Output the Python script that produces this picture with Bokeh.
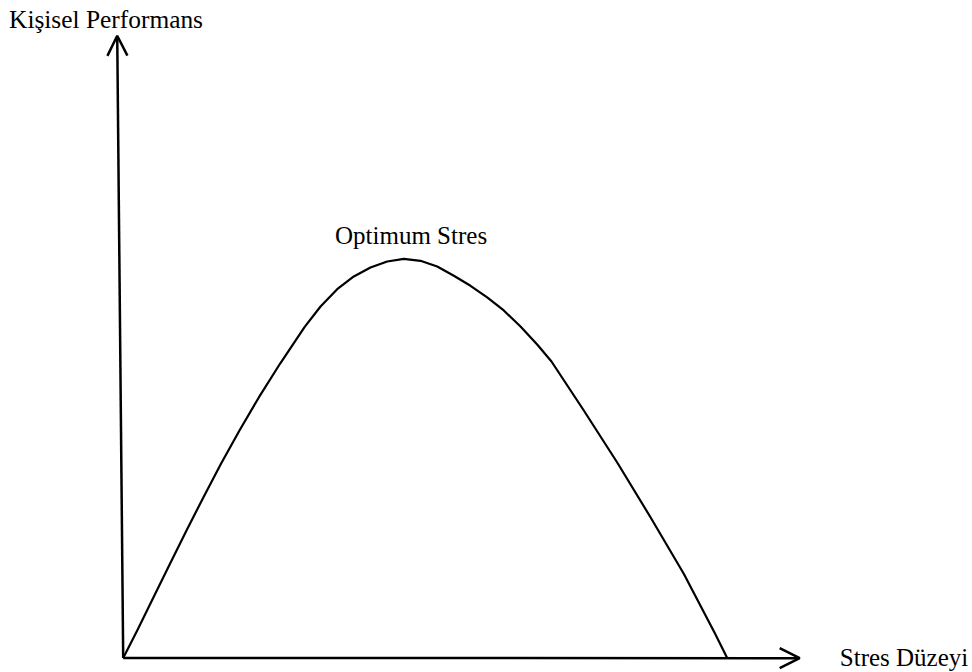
from bokeh.plotting import figure
from bokeh.models import Range1d, Arrow, OpenHead, Label
from bokeh.embed import file_html
from bokeh.resources import INLINE

# Stress level (x) vs personal performance (y), arbitrary units 0-100
stress = [0, 2.32, 5.02, 7.75, 10.48, 13.29, 16.19, 19.25, 22.48, 25.96,
          30.02, 32.67, 35.43, 38.18, 40.94, 43.71, 46.46, 49.22, 51.99,
          54.74, 57.50, 60.26, 63.01, 65.78, 68.54, 70.91,
          76.26, 81.79, 87.30, 92.81, 97.98, 100]
performance = [0, 6.89, 15.23, 23.60, 31.94, 40.28, 48.65, 56.99, 65.33, 73.70,
               82.87, 88.05, 92.38, 95.57, 97.82, 99.32, 100, 99.50, 98.07,
               95.74, 93.24, 90.31, 87.05, 83.04, 78.53, 74.27,
               62.00, 48.97, 35.27, 21.09, 6.14, 0]

x_axis_label = "Stres Düzeyi"
y_axis_label = "Kişisel Performans"
peak_label = "Optimum Stres"

FONT = "Liberation Serif"
FSIZE = "25px"

p = figure(width=972, height=672, output_backend="svg", toolbar_location=None,
           x_range=Range1d(-20.315, 140.613), y_range=Range1d(-3.632, 164.70),
           x_axis_location=None, y_axis_location=None, title=None,
           min_border=0, outline_line_color=None, background_fill_color="white",
           border_fill_color="white")
p.grid.visible = False

# curve
p.line(stress, performance, line_color="black", line_width=2.2,
       line_join="round")

# axes with open arrowheads
p.add_layout(Arrow(end=OpenHead(size=20, line_width=2.5, line_color="black"),
                   x_start=0, y_start=0, x_end=112.0, y_end=-0.05,
                   line_width=2.5, line_color="black"))
p.add_layout(Arrow(end=OpenHead(size=20, line_width=2.5, line_color="black"),
                   x_start=0, y_start=0, x_end=-0.99, y_end=155.86,
                   line_width=2.5, line_color="black"))

# labels
p.add_layout(Label(x=-18.9, y=160.02, text=y_axis_label, text_font=FONT,
                   text_font_size="25.4px", text_color="black",
                   text_baseline="alphabetic", text_align="left"))
p.add_layout(Label(x=35.07, y=105.76, text=peak_label, text_font=FONT,
                   text_font_size=FSIZE, text_color="black",
                   text_baseline="alphabetic", text_align="left"))
p.add_layout(Label(x=118.64, y=0.13, text=x_axis_label, text_font=FONT,
                   text_font_size=FSIZE, text_color="black",
                   text_baseline="alphabetic", text_align="left"))

open("out.html", "w").write(file_html(p, INLINE))
